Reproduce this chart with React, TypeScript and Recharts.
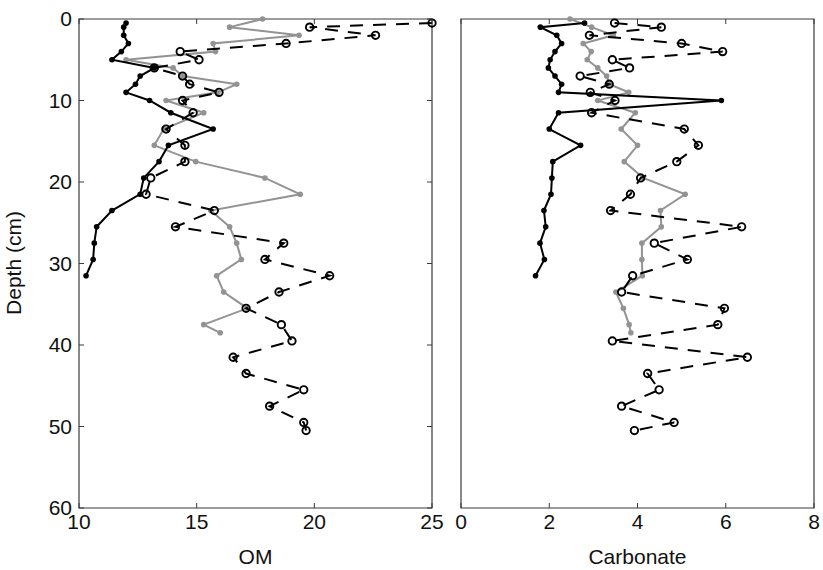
import React from 'react';
import { ScatterChart, Scatter, XAxis, YAxis, ReferenceArea } from 'recharts';

// depth (cm) of each sample, one list per core
const depthBlack = [0.5, 1, 2, 3, 4, 5, 6, 7, 8, 9, 10, 11.5, 13.5, 15.5, 17.5, 19.5, 21.5, 23.5, 25.5, 27.5, 29.5, 31.5];
const omBlack = [12.0, 11.9, 11.9, 12.1, 11.8, 11.4, 13.2, 12.6, 12.4, 12.0, 13.0, 13.9, 15.7, 13.8, 13.4, 12.75, 12.6, 11.4, 10.75, 10.65, 10.6, 10.3];
const carbBlack = [2.8, 1.8, 2.17, 2.28, 2.13, 2.02, 1.98, 2.13, 2.28, 2.21, 5.9, 2.21, 2.0, 2.71, 2.08, 2.06, 2.04, 1.88, 1.92, 1.79, 1.89, 1.69];

const depthGray = [0, 1, 2, 3, 4, 5, 6, 7, 8, 9, 10, 11.5, 13.5, 15.5, 17.5, 19.5, 21.5, 23.5, 25.5, 27.5, 29.5, 31.5, 33.5, 35.5, 37.5, 38.5];
const omGray = [17.8, 16.4, 19.35, 15.7, 15.8, 12.0, 14.0, 14.4, 16.7, 15.9, 13.7, 15.3, 13.6, 13.2, 14.96, 17.9, 19.4, 15.6, 16.4, 16.7, 16.9, 15.85, 16.15, 17.15, 15.3, 16.0];
const carbGray = [2.47, 2.96, 3.45, 2.77, 2.95, 2.86, 3.1, 3.3, 3.36, 3.8, 3.1, 3.95, 3.63, 4.0, 3.7, 4.13, 5.08, 4.52, 4.54, 4.1, 4.1, 4.11, 3.51, 3.68, 3.81, 3.85];

const depthOpen = [0.5, 1, 2, 3, 4, 5, 6, 7, 8, 9, 10, 11.5, 13.5, 15.5, 17.5, 19.5, 21.5, 23.5, 25.5, 27.5, 29.5, 31.5, 33.5, 35.5, 37.5, 39.5, 41.5, 43.5, 45.5, 47.5, 49.5, 50.5];
const omOpen = [25.0, 19.8, 22.6, 18.8, 14.3, 15.1, 13.2, 14.4, 14.7, 15.95, 14.4, 14.85, 13.7, 14.5, 14.5, 13.05, 12.85, 15.75, 14.1, 18.7, 17.9, 20.65, 18.5, 17.1, 18.6, 19.05, 16.55, 17.1, 19.55, 18.1, 19.55, 19.65];
const carbOpen = [3.48, 4.54, 2.91, 5.0, 5.93, 3.43, 3.82, 2.7, 3.36, 2.93, 3.49, 2.96, 5.06, 5.38, 4.89, 4.07, 3.84, 3.39, 6.36, 4.38, 5.13, 3.89, 3.64, 5.97, 5.82, 3.43, 6.49, 4.23, 4.49, 3.64, 4.83, 3.93];

const depthTicks = [0, 10, 20, 30, 40, 50, 60];
const omTicks = [10, 15, 20, 25];
const carbTicks = [0, 2, 4, 6, 8];

const FONT = '"Liberation Sans", Arial, sans-serif';
const PLOT_H = 489;
const PLOT_W = 353;
const TICK = 5;
const AXIS_COLOR = '#3a3a3a';
const GRAY = '#939393';

const pts = (xs: number[], ds: number[]) => xs.map((v, i) => ({ x: v, y: ds[i] }));

const dot = (color: string) => (p: any) => <circle cx={p.cx} cy={p.cy} r={2.8} fill={color} />;
const ring = (p: any) => <circle cx={p.cx} cy={p.cy} r={3.7} fill="none" stroke="#000" strokeWidth={1.9} />;

const BottomTick = (p: any) => (
  <g>
    <line x1={p.x} y1={p.y} x2={p.x} y2={p.y - TICK} stroke={AXIS_COLOR} />
    <line x1={p.x} y1={p.y - PLOT_H} x2={p.x} y2={p.y - PLOT_H + TICK} stroke={AXIS_COLOR} />
    <text x={p.x} y={p.y + 21} textAnchor="middle" fontSize={21} fontFamily={FONT} fill="#111">
      {p.payload.value}
    </text>
  </g>
);

const LeftTick = (p: any) => (
  <g>
    <line x1={p.x} y1={p.y} x2={p.x + TICK} y2={p.y} stroke={AXIS_COLOR} />
    <line x1={p.x + PLOT_W} y1={p.y} x2={p.x + PLOT_W - TICK} y2={p.y} stroke={AXIS_COLOR} />
    <text x={p.x - 7} y={p.y + 7} textAnchor="end" fontSize={21} fontFamily={FONT} fill="#111">
      {p.payload.value}
    </text>
  </g>
);

const Panel = ({ om, left }: { om: boolean; left: number }) => {
  const black = pts(om ? omBlack : carbBlack, depthBlack);
  const gray = pts(om ? omGray : carbGray, depthGray);
  const open = pts(om ? omOpen : carbOpen, depthOpen);
  const domain: [number, number] = om ? [10, 25] : [0, 8];
  return (
    <div style={{ position: 'absolute', top: 0, left }}>
      <ScatterChart
        width={om ? 445 : 374}
        height={570}
        margin={om ? { top: 19, right: 13, bottom: 0, left: 0 } : { top: 19, right: 9, bottom: 0, left: 12 }}
      >
        <XAxis
          type="number"
          dataKey="x"
          domain={domain}
          ticks={om ? omTicks : carbTicks}
          height={62}
          axisLine={false}
          tickLine={false}
          tickSize={0}
          tickMargin={0}
          tick={BottomTick}
          label={{ value: om ? 'OM' : 'Carbonate', position: 'insideBottom', offset: 6, fontSize: 21, fontFamily: FONT, fill: '#111' }}
        />
        <YAxis
          type="number"
          dataKey="y"
          domain={[0, 60]}
          ticks={depthTicks}
          reversed
          hide={!om}
          width={79}
          axisLine={false}
          tickLine={false}
          tickSize={0}
          tickMargin={0}
          tick={LeftTick}
          label={() => (
            <text x={13} y={263} transform="rotate(-90 13 263)" textAnchor="middle" dominantBaseline="central" fontSize={21} fontFamily={FONT} fill="#111">
              Depth (cm)
            </text>
          )}
        />
        <ReferenceArea x1={domain[0]} x2={domain[1]} y1={0} y2={60} fill="none" stroke={AXIS_COLOR} strokeWidth={1.2} />
        <Scatter data={gray} fill={GRAY} line={{ stroke: GRAY, strokeWidth: 2 }} shape={dot(GRAY)} isAnimationActive={false} />
        <Scatter data={black} fill="#000" line={{ stroke: '#000', strokeWidth: 2 }} shape={dot('#000')} isAnimationActive={false} />
        <Scatter data={open} fill="#000" line={{ stroke: '#000', strokeWidth: 2, strokeDasharray: '13 10' }} shape={ring} isAnimationActive={false} />
      </ScatterChart>
    </div>
  );
};

export default function App() {
  return (
    <div style={{ position: 'absolute', top: 0, left: 0, width: 823, height: 570, background: '#fff' }}>
      <Panel om left={0} />
      <Panel om={false} left={449} />
    </div>
  );
}
